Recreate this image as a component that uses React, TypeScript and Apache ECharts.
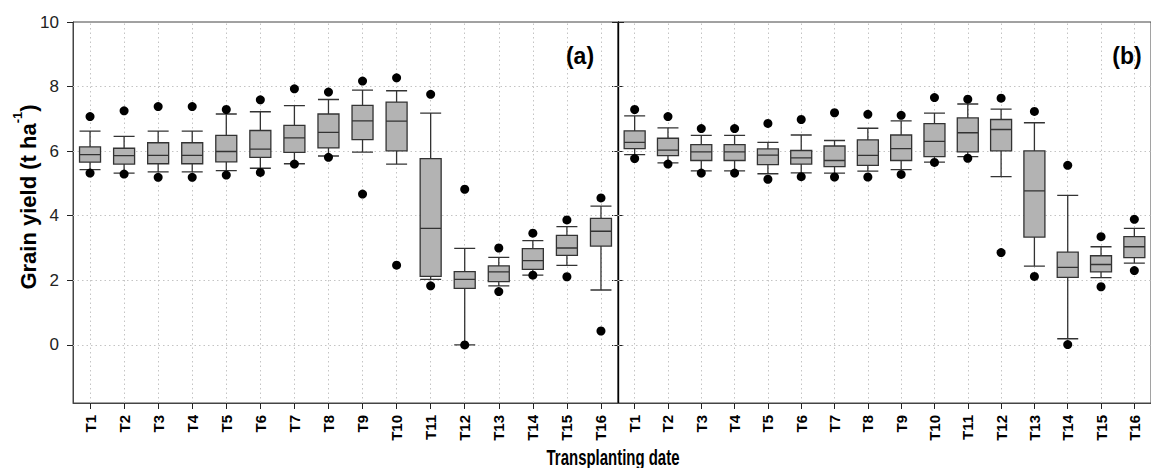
import React, { useEffect, useRef } from "react";
import * as echarts from "echarts";

const categories = ["T1","T2","T3","T4","T5","T6","T7","T8","T9","T10","T11","T12","T13","T14","T15","T16"];
const yTicks = [0, 2, 4, 6, 8, 10];
const yGrid = [0, 2, 4, 6, 8];

// [lower whisker, Q1, median, Q3, upper whisker]
const boxA = [
  [5.43, 5.66, 5.89, 6.13, 6.62],
  [5.32, 5.60, 5.86, 6.09, 6.46],
  [5.36, 5.61, 5.87, 6.26, 6.62],
  [5.36, 5.61, 5.87, 6.26, 6.62],
  [5.40, 5.67, 5.99, 6.49, 7.15],
  [5.47, 5.81, 6.06, 6.64, 7.22],
  [5.61, 5.96, 6.41, 6.80, 7.41],
  [5.85, 6.10, 6.58, 7.15, 7.60],
  [5.97, 6.36, 6.94, 7.42, 7.89],
  [5.60, 6.01, 6.93, 7.52, 7.87],
  [2.03, 2.12, 3.61, 5.77, 7.18],
  [0.00, 1.75, 2.03, 2.27, 2.99],
  [1.83, 1.96, 2.26, 2.45, 2.71],
  [2.16, 2.34, 2.61, 2.98, 3.23],
  [2.46, 2.77, 3.00, 3.39, 3.66],
  [1.70, 3.06, 3.52, 3.92, 4.30],
];
const highA = [7.07, 7.25, 7.38, 7.38, 7.29, 7.59, 7.93, 7.83, 8.17, 8.27, 7.76, 4.82, 3.00, 3.46, 3.87, 4.55];
const lowA = [5.32, 5.29, 5.19, 5.19, 5.26, 5.34, 5.60, 5.81, 4.67, 2.47, 1.83, 0.00, 1.65, 2.16, 2.11, 0.43];

const boxB = [
  [5.89, 6.08, 6.27, 6.63, 7.09],
  [5.64, 5.86, 6.03, 6.40, 6.72],
  [5.39, 5.71, 5.98, 6.20, 6.49],
  [5.39, 5.71, 5.98, 6.20, 6.49],
  [5.30, 5.58, 5.88, 6.07, 6.27],
  [5.33, 5.60, 5.79, 6.02, 6.50],
  [5.32, 5.52, 5.71, 6.16, 6.33],
  [5.38, 5.56, 5.87, 6.35, 6.71],
  [5.43, 5.71, 6.08, 6.50, 6.94],
  [5.66, 5.83, 6.30, 6.85, 7.18],
  [5.83, 5.98, 6.57, 7.03, 7.46],
  [5.21, 6.01, 6.67, 6.98, 7.30],
  [2.44, 3.34, 4.77, 6.01, 6.88],
  [0.19, 2.09, 2.40, 2.87, 4.63],
  [2.08, 2.26, 2.49, 2.76, 3.04],
  [2.53, 2.70, 3.04, 3.35, 3.61],
];
const highB = [7.29, 7.07, 6.70, 6.70, 6.86, 6.98, 7.19, 7.14, 7.11, 7.66, 7.61, 7.64, 7.23, 5.56, 3.35, 3.89];
const lowB = [5.77, 5.60, 5.32, 5.32, 5.13, 5.21, 5.20, 5.20, 5.28, 5.65, 5.78, 2.86, 2.12, 0.01, 1.80, 2.30];

const FONT = "'Liberation Sans', Arial, Helvetica, sans-serif";
const Y_MIN = -1.8;
const Y_MAX = 10;

function xAxisFor(i: number) {
  return {
    type: "category",
    gridIndex: i,
    data: categories,
    boundaryGap: true,
    axisLine: { show: true, onZero: false, lineStyle: { color: "#444", width: 1 } },
    axisTick: { show: true, alignWithLabel: true, length: 6, lineStyle: { color: "#222" } },
    axisLabel: { rotate: 90, interval: 0, margin: 12, fontSize: 15, fontWeight: "bold", color: "#000", fontFamily: FONT },
    splitLine: { show: false },
  };
}

function seriesFor(i: number, box: number[][], high: number[], low: number[]) {
  const pts: any[] = [];
  categories.forEach((c, k) => {
    pts.push([c, high[k]]);
    pts.push([c, low[k]]);
  });
  return [
    {
      type: "boxplot",
      xAxisIndex: i,
      yAxisIndex: i === 0 ? 0 : 2,
      data: box,
      boxWidth: [21, 21],
      z: 3,
      itemStyle: { color: "#b3b3b3", borderColor: "#333", borderWidth: 1.3 },
    },
    {
      type: "scatter",
      xAxisIndex: i,
      yAxisIndex: i === 0 ? 0 : 2,
      data: pts,
      symbolSize: 9,
      z: 4,
      itemStyle: { color: "#000", opacity: 1 },
      markLine: {
        silent: true,
        z: 1,
        symbol: ["none", "none"],
        label: { show: false },
        lineStyle: { color: "#c4c4c4", type: [1.5, 3], width: 1 },
        data: [
          ...yGrid.map((v) => ({ yAxis: v })),
          ...categories.map((c) => ({ xAxis: c })),
        ],
      },
    },
  ];
}

export default function App() {
  const ref = useRef<HTMLDivElement>(null);
  useEffect(() => {
    if (!ref.current) return;
    const chart = echarts.init(ref.current, null, { renderer: "svg" });
    const option: any = {
      animation: false,
      backgroundColor: "#fff",
      grid: [
        { left: 73, top: 22, width: 545, height: 381, show: true, borderColor: "#444", borderWidth: 1, backgroundColor: "transparent" },
        { left: 618, top: 22, width: 544, height: 381, show: true, borderColor: "#444", borderWidth: 1, backgroundColor: "transparent" },
      ],
      xAxis: [xAxisFor(0), xAxisFor(1)],
      yAxis: [
        {
          type: "value", gridIndex: 0, min: Y_MIN, max: Y_MAX,
          axisLine: { show: true, lineStyle: { color: "#444" } },
          axisTick: { show: true, length: 6, customValues: yTicks, lineStyle: { color: "#222" } },
          axisLabel: { customValues: yTicks, fontSize: 17, color: "#222", margin: 14, fontFamily: FONT },
          splitLine: { show: false },
        },
        {
          type: "value", gridIndex: 0, position: "right", min: Y_MIN, max: Y_MAX,
          axisLine: { show: true, lineStyle: { color: "#000", width: 1.2 } },
          axisTick: { show: true, length: 6, customValues: yTicks, lineStyle: { color: "#222" } },
          axisLabel: { show: false },
          splitLine: { show: false },
        },
        {
          type: "value", gridIndex: 1, position: "left", min: Y_MIN, max: Y_MAX,
          axisLine: { show: true, lineStyle: { color: "#000", width: 1.2 } },
          axisTick: { show: true, length: 6, customValues: yTicks, lineStyle: { color: "#222" } },
          axisLabel: { show: false },
          splitLine: { show: false },
        },
      ],
      series: [
        ...seriesFor(0, boxA, highA, lowA),
        ...seriesFor(1, boxB, highB, lowB),
      ],
      graphic: [
        {
          type: "text", x: 580, y: 56, z: 10,
          style: { text: "(a)", fontSize: 23, fontWeight: "bold", fontFamily: FONT, fill: "#000", align: "center", verticalAlign: "middle" },
        },
        {
          type: "text", x: 1127, y: 56, z: 10,
          style: { text: "(b)", fontSize: 23, fontWeight: "bold", fontFamily: FONT, fill: "#000", align: "center", verticalAlign: "middle" },
        },
        {
          type: "text", x: 613, y: 457, scaleX: 0.68, z: 10,
          style: { text: "Transplanting date", fontSize: 22, fontWeight: "bold", fontFamily: FONT, fill: "#000", align: "center", verticalAlign: "middle" },
        },
        {
          type: "text", x: 28, y: 197, rotation: Math.PI / 2, z: 10,
          style: {
            text: "{m|Grain yield (t ha}{s|-1}{m|)}",
            align: "center",
            verticalAlign: "middle",
            fill: "#000",
            rich: {
              m: { fontSize: 22, fontWeight: "bold", fontFamily: FONT, fill: "#000", lineHeight: 34, verticalAlign: "middle" },
              s: { fontSize: 13, fontWeight: "bold", fontFamily: FONT, fill: "#000", lineHeight: 14, verticalAlign: "top" },
            },
          },
        },
      ],
    };
    chart.setOption(option);
    return () => chart.dispose();
  }, []);
  return (
    <div
      ref={ref}
      style={{ position: "absolute", left: 0, top: 0, width: 1151, height: 468, overflow: "hidden" }}
    />
  );
}
